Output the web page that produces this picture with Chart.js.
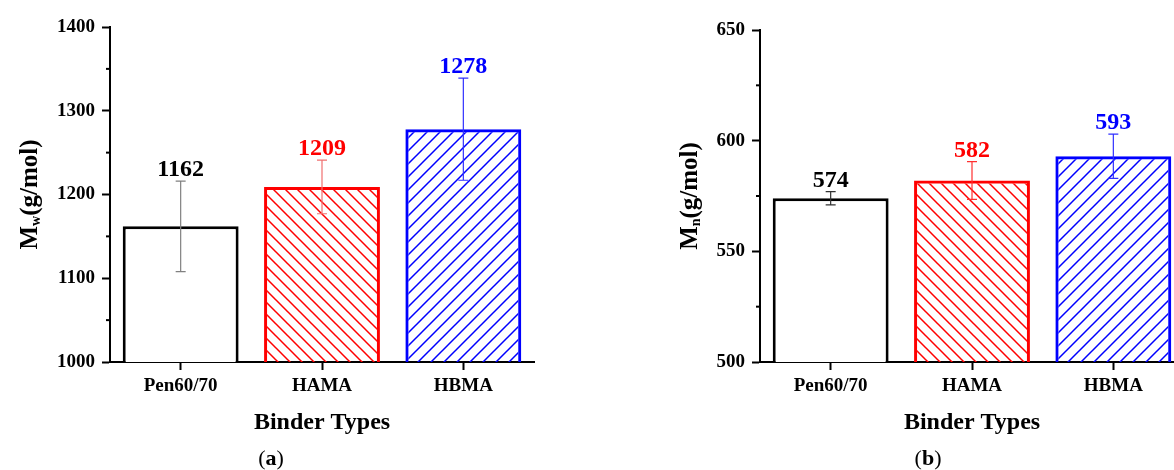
<!DOCTYPE html>
<html>
<head>
<meta charset="utf-8">
<script src="https://cdn.jsdelivr.net/npm/chart.js@4.4.1/dist/chart.umd.min.js"></script>
<style>
  html, body { margin: 0; padding: 0; background: #fff; overflow: hidden; }
  #wrap { position: relative; width: 1174px; height: 470px; overflow: hidden; }
  .panel { position: absolute; top: 0; width: 560px; height: 470px; }
  #panelA { left: 0; }
  #panelB { left: 650px; }
  .caption { position: absolute; top: 446px; width: 100px; text-align: center;
             font: 22px 'Liberation Serif', serif; line-height: 24px; color: #000; }
  #capA { left: 221px; }
  #capB { left: 878px; }
</style>
</head>
<body>
<div id="wrap">
  <div class="panel" id="panelA"><canvas id="chartA"></canvas></div>
  <div class="panel" id="panelB"><canvas id="chartB"></canvas></div>
  <div class="caption" id="capA">(<b>a</b>)</div>
  <div class="caption" id="capB">(<b>b</b>)</div>
</div>

<script>
// Data
const categories = ['Pen60/70', 'HAMA', 'HBMA'];
const mwValues = [1162, 1209, 1278];
const mwErrors = [54, 32, 61];
const mnValues = [574, 582, 593];
const mnErrors = [3, 8.5, 10];
const mwTicks = [1000, 1100, 1200, 1300, 1400];
const mnTicks = [500, 550, 600, 650];

const FONT = '"Liberation Serif", "Times New Roman", serif';

// Diagonal hatch fill ("back" = \\\ , "fwd" = ///)
function hatch(color, dir, gap) {
  const c = document.createElement('canvas');
  c.width = gap; c.height = gap;
  const g = c.getContext('2d');
  g.strokeStyle = color;
  g.lineWidth = 1.5;
  g.beginPath();
  if (dir === 'back') {
    g.moveTo(-1, -1); g.lineTo(gap + 1, gap + 1);
    g.moveTo(-1, gap - 1); g.lineTo(1, gap + 1);
    g.moveTo(gap - 1, -1); g.lineTo(gap + 1, 1);
  } else {
    g.moveTo(-1, gap + 1); g.lineTo(gap + 1, -1);
    g.moveTo(-1, 1); g.lineTo(1, -1);
    g.moveTo(gap - 1, gap + 1); g.lineTo(gap + 1, gap - 1);
  }
  g.stroke();
  return g.createPattern(c, 'repeat');
}

// Error bars + value labels
const barExtras = {
  id: 'barExtras',
  afterDatasetsDraw(chart, args, opts) {
    const { ctx, scales: { y } } = chart;
    const meta = chart.getDatasetMeta(0);
    const vals = chart.data.datasets[0].data;
    meta.data.forEach((bar, i) => {
      const top = y.getPixelForValue(vals[i] + opts.errors[i]);
      const bot = y.getPixelForValue(vals[i] - opts.errors[i]);
      ctx.save();
      ctx.strokeStyle = opts.errColors[i];
      ctx.lineWidth = 1.2;
      ctx.beginPath();
      ctx.moveTo(bar.x, top); ctx.lineTo(bar.x, bot);
      ctx.moveTo(bar.x - 5, top); ctx.lineTo(bar.x + 5, top);
      ctx.moveTo(bar.x - 5, bot); ctx.lineTo(bar.x + 5, bot);
      ctx.stroke();
      ctx.fillStyle = opts.labelColors[i];
      ctx.font = 'bold 24px ' + FONT;
      ctx.textAlign = 'center';
      ctx.textBaseline = 'alphabetic';
      ctx.fillText(String(vals[i]), bar.x, top - 5);
      ctx.restore();
    });
  }
};

// Minor y ticks + y title with subscript
const axisExtras = {
  id: 'axisExtras',
  afterDraw(chart, args, opts) {
    const { ctx, chartArea, scales: { y } } = chart;
    ctx.save();
    ctx.strokeStyle = '#000';
    ctx.lineWidth = 2;
    const t = y.ticks;
    for (let i = 0; i < t.length - 1; i++) {
      const py = y.getPixelForValue((t[i].value + t[i + 1].value) / 2);
      ctx.beginPath();
      ctx.moveTo(chartArea.left - 4, py);
      ctx.lineTo(chartArea.left, py);
      ctx.stroke();
    }
    ctx.translate(opts.titleX, (chartArea.top + chartArea.bottom) / 2);
    ctx.rotate(-Math.PI / 2);
    ctx.fillStyle = '#000';
    const big = 'bold 25px ' + FONT, small = 'bold 14px ' + FONT;
    ctx.font = big;
    const w1 = ctx.measureText('M').width, w3 = ctx.measureText('(g/mol)').width;
    ctx.font = small;
    const w2 = ctx.measureText(opts.sub).width;
    let x = -(w1 + w2 + w3) / 2;
    ctx.textBaseline = 'alphabetic';
    ctx.font = big; ctx.fillText('M', x, 0); x += w1;
    ctx.font = small; ctx.fillText(opts.sub, x, 3); x += w2;
    ctx.font = big; ctx.fillText('(g/mol)', x, 0);
    ctx.restore();
  }
};

function makeChart(id, values, errors, ticks, sub, titleX, padTop, errColors) {
  const colors = ['#000000', '#ff0000', '#0000ff'];
  new Chart(document.getElementById(id), {
    type: 'bar',
    data: {
      labels: categories,
      datasets: [{
        data: values,
        backgroundColor: ['#ffffff', hatch('#ff0000', 'back', 12), hatch('#0000ff', 'fwd', 13)],
        borderColor: colors,
        borderWidth: 3,
        borderSkipped: false,
        barPercentage: 0.82,
        categoryPercentage: 1
      }]
    },
    options: {
      responsive: true,
      maintainAspectRatio: false,
      animation: false,
      events: [],
      layout: { padding: { top: padTop, right: 26, left: 0, bottom: 0 } },
      plugins: {
        legend: { display: false },
        tooltip: { enabled: false },
        barExtras: { errors: errors, errColors: errColors, labelColors: colors },
        axisExtras: { sub: sub, titleX: titleX }
      },
      scales: {
        x: {
          afterFit: s => { s.height = 108; },
          grid: { drawOnChartArea: false, offset: false, tickLength: 8, tickWidth: 2, tickColor: '#000' },
          border: { display: true, color: '#000', width: 2 },
          ticks: { color: '#000', padding: 5, font: { family: FONT, size: 19, weight: 'bold' } },
          title: {
            display: true, text: 'Binder Types', color: '#000',
            font: { family: FONT, size: 24, weight: 'bold' },
            padding: { top: 0, bottom: 33 }
          }
        },
        y: {
          min: ticks[0],
          max: ticks[ticks.length - 1],
          afterFit: s => { s.width = 110; },
          grid: { drawOnChartArea: false, tickLength: 8, tickWidth: 2, tickColor: '#000' },
          border: { display: true, color: '#000', width: 2 },
          ticks: {
            stepSize: ticks[1] - ticks[0],
            color: '#000', padding: 7,
            font: { family: FONT, size: 19, weight: 'bold' },
            callback: v => String(v)
          }
        }
      }
    },
    plugins: [barExtras, axisExtras]
  });
}

makeChart('chartA', mwValues, mwErrors, mwTicks, 'w', 37, 27, ['#808080', '#f07070', '#3030ff']);
makeChart('chartB', mnValues, mnErrors, mnTicks, 'n', 47, 30, ['#333333', '#ff3030', '#3030ff']);
</script>
</body>
</html>
